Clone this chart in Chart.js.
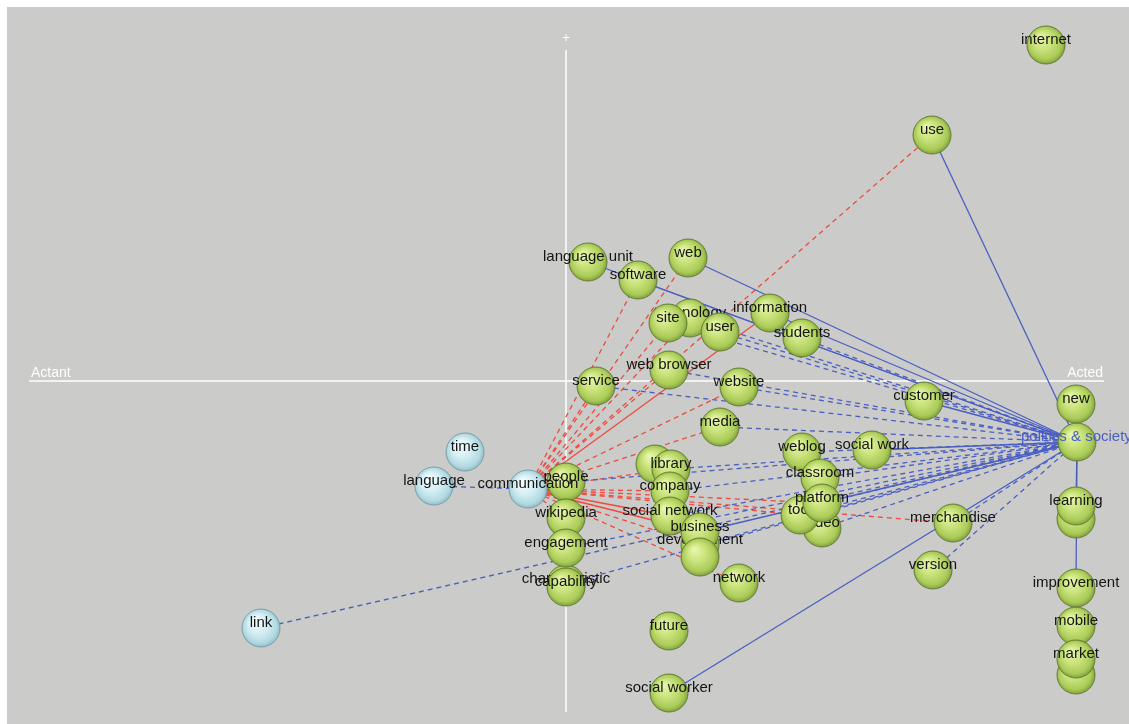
<!DOCTYPE html>
<html>
<head>
<meta charset="utf-8">
<script src="https://cdn.jsdelivr.net/npm/chart.js@4.4.0/dist/chart.umd.min.js"></script>
<style>
    html, body { margin: 0; background: #fff; }
    #wrap { position: absolute; left: 7px; top: 7px; width: 1122px; height: 717px; background: #cbcbc9; }
</style>
</head>
<body>
<div id="wrap"><canvas id="map" width="1122" height="717"></canvas></div>
<script>
// node positions on the actant / acted plane (origin = axis crossing)
const nodeNames = ['internet', 'use', 'language unit', 'web', 'software', 'technology', 'site', 'user',
    'information', 'students', 'web browser', 'service', 'website', 'customer', 'new', 'politics & society',
    'media', 'time', 'language', 'communication', 'people', 'library', 'company', 'weblog', 'social work',
    'classroom', 'wikipedia', 'social network', 'platform', 'tool', 'video', 'merchandise', 'business',
    'development', 'engagement', 'learning', 'characteristic', 'capability', 'network', 'version',
    'improvement', 'mobile', 'market', 'link', 'future', 'social worker', '', '', '', ''];
const nodeX = [480, 366, 22, 122, 72, 124, 102, 154,
    204, 236, 103, 30, 173, 358, 510, 511,
    154, -101, -132, -38, 0, 105, 104, 236, 306,
    254, 0, 104, 256, 234, 256, 387, 134,
    134, 0, 510, 0, 0, 173, 367,
    510, 510, 510, -305, 103, 103, 89, 510, 510, 134];
const nodeY = [336, 246, 119, 123, 101, 63, 58, 49,
    68, 43, 11, -5, -6, -20, -23, -61,
    -46, -71, -105, -108, -101, -88, -110, -71, -69,
    -97, -137, -135, -122, -134, -147, -142, -151,
    -164, -167, -125, -203, -206, -202, -189,
    -207, -245, -278, -247, -250, -312, -83, -138, -294, -176];
// depth: 0 = behind, 1 = middle, 2 = in front
const nodeDepth = [1, 1, 1, 1, 1, 0, 2, 2,
    1, 1, 1, 1, 1, 1, 1, 1,
    1, 1, 1, 1, 1, 1, 1, 1, 1,
    1, 1, 1, 2, 1, 0, 1, 2,
    0, 1, 1, 0, 2, 1, 1,
    1, 1, 1, 1, 1, 1, 0, 0, 0, 2];
const actantNodes = ['time', 'language', 'communication', 'link'];

// links
const blueHub = 'politics & society';
const blueSolidToHub = ['web', 'software', 'language unit', 'information', 'customer', 'use', 'new',
    'social work', 'business', 'social worker', 'learning', 'improvement'];
const blueDashedToHub = ['technology', 'site', 'user', 'students', 'web browser', 'service', 'website',
    'media', 'weblog', 'classroom', 'platform', 'tool', 'video', 'library', 'people', 'company',
    'social network', 'development', 'engagement', 'characteristic', 'merchandise', 'version', 'link'];
const blueDashedPairs = [['language', 'communication']];
const redHub = 'communication';
const redSolidFromHub = ['information', 'social network', 'business'];
const redDashedFromHub = ['use', 'web', 'software', 'technology', 'site', 'service', 'web browser',
    'website', 'media', 'library', 'company', 'platform', 'tool', 'merchandise', 'development',
    'network', 'wikipedia'];

// axes
const axisLabels = ['Actant', 'Acted'];
const axisXRange = [-537, 538];
const axisYRange = [-331, 331];

const BLUE = '#4a5fc2';
const RED = '#ee4a3e';

function pt(name) {
    const i = nodeNames.indexOf(name);
    return { x: nodeX[i], y: nodeY[i] };
}

function makeBall(stops, rim) {
    const c = document.createElement('canvas');
    c.width = 40; c.height = 40;
    const g = c.getContext('2d');
    const grad = g.createRadialGradient(14, 12, 1, 20, 20, 20);
    stops.forEach(function(s) { grad.addColorStop(s[0], s[1]); });
    g.beginPath();
    g.arc(20, 20, 19, 0, Math.PI * 2);
    g.fillStyle = grad;
    g.fill();
    g.strokeStyle = rim;
    g.lineWidth = 1;
    g.stroke();
    return c;
}

const greenBall = makeBall([[0, '#e8f6ad'], [0.45, '#c8e27a'], [0.8, '#aacb58'], [1, '#7b983a']], 'rgba(90,115,45,0.85)');
const blueBall = makeBall([[0, '#f6fdfe'], [0.45, '#d6eff4'], [0.82, '#b2d9e2'], [1, '#8ab6c1']], 'rgba(110,150,160,0.8)');

function linkSet(a, b, color, dashed) {
    return {
        data: [pt(a), pt(b)],
        showLine: true,
        borderColor: color,
        borderWidth: 1.3,
        borderDash: dashed ? [5, 4] : [],
        pointRadius: 0,
        clip: false,
        order: 10
    };
}

const datasets = [];
blueSolidToHub.forEach(n => datasets.push(linkSet(n, blueHub, BLUE, false)));
blueDashedToHub.forEach(n => datasets.push(linkSet(n, blueHub, BLUE, true)));
blueDashedPairs.forEach(p => datasets.push(linkSet(p[0], p[1], BLUE, true)));
redSolidFromHub.forEach(n => datasets.push(linkSet(redHub, n, RED, false)));
redDashedFromHub.forEach(n => datasets.push(linkSet(redHub, n, RED, true)));

[0, 1, 2].forEach(function(depth) {
    const idx = nodeNames.map((n, i) => i).filter(i => nodeDepth[i] === depth);
    datasets.push({
        data: idx.map(i => ({ x: nodeX[i], y: nodeY[i] })),
        nodeLabels: idx.map(i => nodeNames[i]),
        pointStyle: ctx => actantNodes.indexOf(nodeNames[idx[ctx.dataIndex]]) >= 0 ? blueBall : greenBall,
        pointRadius: 19,
        showLine: false,
        clip: false,
        order: 3 - depth
    });
});

const crossPlugin = {
    id: 'cross',
    beforeDatasetsDraw(chart) {
        const c = chart.ctx, xs = chart.scales.x, ys = chart.scales.y;
        const x0 = xs.getPixelForValue(0), y0 = ys.getPixelForValue(0);
        const xl = xs.getPixelForValue(axisXRange[0]), xr = xs.getPixelForValue(axisXRange[1]);
        const yt = ys.getPixelForValue(axisYRange[1]), yb = ys.getPixelForValue(axisYRange[0]);
        c.save();
        c.strokeStyle = '#ffffff';
        c.lineWidth = 1.5;
        c.beginPath();
        c.moveTo(xl, y0); c.lineTo(xr, y0);
        c.moveTo(x0, yt); c.lineTo(x0, yb);
        c.stroke();
        c.fillStyle = '#ffffff';
        c.font = '14px "Liberation Sans", Arial, sans-serif';
        c.textBaseline = 'bottom';
        c.textAlign = 'left';
        c.fillText(axisLabels[0], xl + 2, y0 - 1);
        c.textAlign = 'right';
        c.fillText(axisLabels[1], xr - 1, y0 - 1);
        c.font = '11px "DejaVu Sans", sans-serif';
        c.textAlign = 'center';
        c.textBaseline = 'middle';
        c.fillText('+', x0, yt - 12);
        c.restore();
    }
};

const labelPlugin = {
    id: 'nodeLabels',
    afterDatasetDraw(chart, args) {
        const ds = chart.data.datasets[args.index];
        if (!ds.nodeLabels) return;
        const c = chart.ctx;
        c.save();
        c.font = '15px "Liberation Sans", Arial, sans-serif';
        c.textAlign = 'center';
        c.textBaseline = 'middle';
        args.meta.data.forEach(function(p, i) {
            const name = ds.nodeLabels[i];
            if (!name) return;
            if (name === blueHub) {
                c.fillStyle = BLUE;
                c.textAlign = 'left';
                c.fillText(name, p.x - 56, p.y - 5);
                c.textAlign = 'center';
            } else {
                c.fillStyle = '#141414';
                c.fillText(name, p.x, p.y - 5);
            }
        });
        c.restore();
    }
};

new Chart(document.getElementById('map'), {
    type: 'scatter',
    data: { datasets: datasets },
    options: {
        responsive: false,
        animation: false,
        events: [],
        layout: { padding: 0, autoPadding: false },
        plugins: { legend: { display: false }, tooltip: { enabled: false } },
        scales: {
            x: { type: 'linear', min: -559, max: 563, display: false },
            y: { type: 'linear', min: -343, max: 374, display: false }
        }
    },
    plugins: [crossPlugin, labelPlugin]
});
</script>
</body>
</html>
